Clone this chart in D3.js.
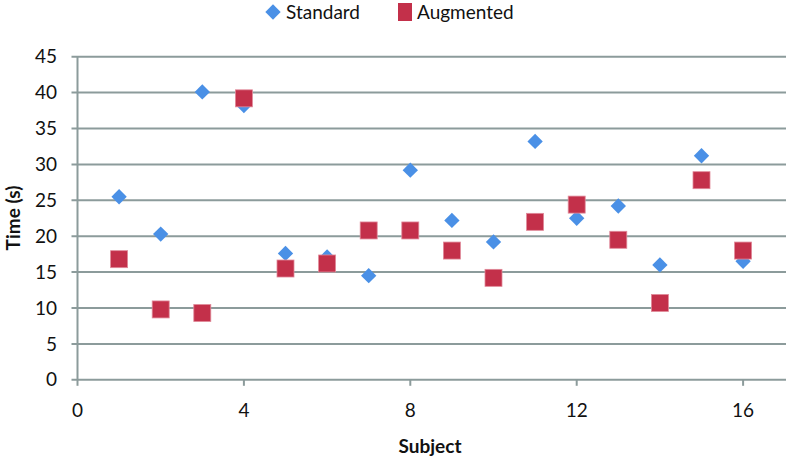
<!DOCTYPE html>
<html>
<head>
<meta charset="utf-8">
<script src="https://cdn.jsdelivr.net/npm/d3@7"></script>
<style>
  body { margin: 0; background: #fff; }
  svg text { font-family: Lato, "Open Sans", sans-serif; fill: #111; }
</style>
</head>
<body>
<div id="chart"></div>
<script>
// values
var subjects = [1, 2, 3, 4, 5, 6, 7, 8, 9, 10, 11, 12, 13, 14, 15, 16];
var standard = [25.5, 20.3, 40.1, 38.2, 17.6, 17.1, 14.5, 29.2, 22.2, 19.2, 33.2, 22.5, 24.2, 16.0, 31.2, 16.5];
var augmented = [16.8, 9.8, 9.3, 39.2, 15.5, 16.2, 20.8, 20.8, 18.0, 14.2, 22.0, 24.4, 19.5, 10.7, 27.8, 18.0];
var xTicks = [0, 4, 8, 12, 16];
var yTicks = [0, 5, 10, 15, 20, 25, 30, 35, 40, 45];

var width = 786, height = 458;
var gridColor = '#8c9b9b';
var blue = '#4a90e6', red = '#c3304a';
var fs = '19px';

var svg = d3.select('#chart').append('svg').attr('width', width).attr('height', height);

var x = d3.scaleLinear().domain([0, 18]).range([77.5, 77.5 + 18 * 41.6]);
var y = d3.scaleLinear().domain([0, 45]).range([379.8, 56.7]);

// horizontal gridlines
svg.append('g').selectAll('line').data(yTicks).enter().append('line')
  .attr('x1', x(0) - 6).attr('x2', width)
  .attr('y1', function(d) { return y(d); }).attr('y2', function(d) { return y(d); })
  .style('stroke', gridColor).style('stroke-width', 2);

// y axis
svg.append('line').attr('x1', x(0)).attr('x2', x(0)).attr('y1', y(45)).attr('y2', y(0))
  .style('stroke', gridColor).style('stroke-width', 2);
svg.append('g').selectAll('text').data(yTicks).enter().append('text')
  .attr('x', 57).attr('y', function(d) { return y(d); }).attr('dy', '0.35em')
  .attr('text-anchor', 'end').style('font-size', fs).text(function(d) { return d; });

// x axis ticks
svg.append('g').selectAll('line').data(xTicks).enter().append('line')
  .attr('x1', function(d) { return x(d); }).attr('x2', function(d) { return x(d); })
  .attr('y1', y(0)).attr('y2', y(0) + 6)
  .style('stroke', gridColor).style('stroke-width', 2);
svg.append('g').selectAll('text').data(xTicks).enter().append('text')
  .attr('x', function(d) { return x(d); }).attr('y', 417)
  .attr('text-anchor', 'middle').style('font-size', fs).text(function(d) { return d; });

// axis titles
svg.append('text').attr('x', 430).attr('y', 453).attr('text-anchor', 'middle')
  .style('font-size', fs).style('font-weight', 'bold').text('Subject');
svg.append('text').attr('transform', 'translate(20,218) rotate(-90)').attr('text-anchor', 'middle')
  .style('font-size', fs).style('font-weight', 'bold').text('Time (s)');

var diamond = d3.symbol().type(d3.symbolDiamond2).size(150);

// series
svg.append('g').selectAll('path').data(standard).enter().append('path')
  .attr('d', diamond)
  .attr('transform', function(d, i) { return 'translate(' + x(subjects[i]) + ',' + y(d) + ')'; })
  .style('fill', blue);
svg.append('g').selectAll('rect').data(augmented).enter().append('rect')
  .attr('x', function(d, i) { return x(subjects[i]) - 8.5; })
  .attr('y', function(d) { return y(d) - 8.5; })
  .attr('width', 17).attr('height', 17)
  .style('fill', red).style('stroke', '#e08a9a').style('stroke-width', 0.8);

// legend
var legend = svg.append('g');
legend.append('path').attr('d', diamond).attr('transform', 'translate(273,12)').style('fill', blue);
legend.append('text').attr('x', 286).attr('y', 12).attr('dy', '0.35em').style('font-size', fs).text('Standard');
legend.append('rect').attr('x', 398).attr('y', 3).attr('width', 14).attr('height', 18).style('fill', red);
legend.append('text').attr('x', 417).attr('y', 12).attr('dy', '0.35em').style('font-size', fs).text('Augmented');
</script>
</body>
</html>
